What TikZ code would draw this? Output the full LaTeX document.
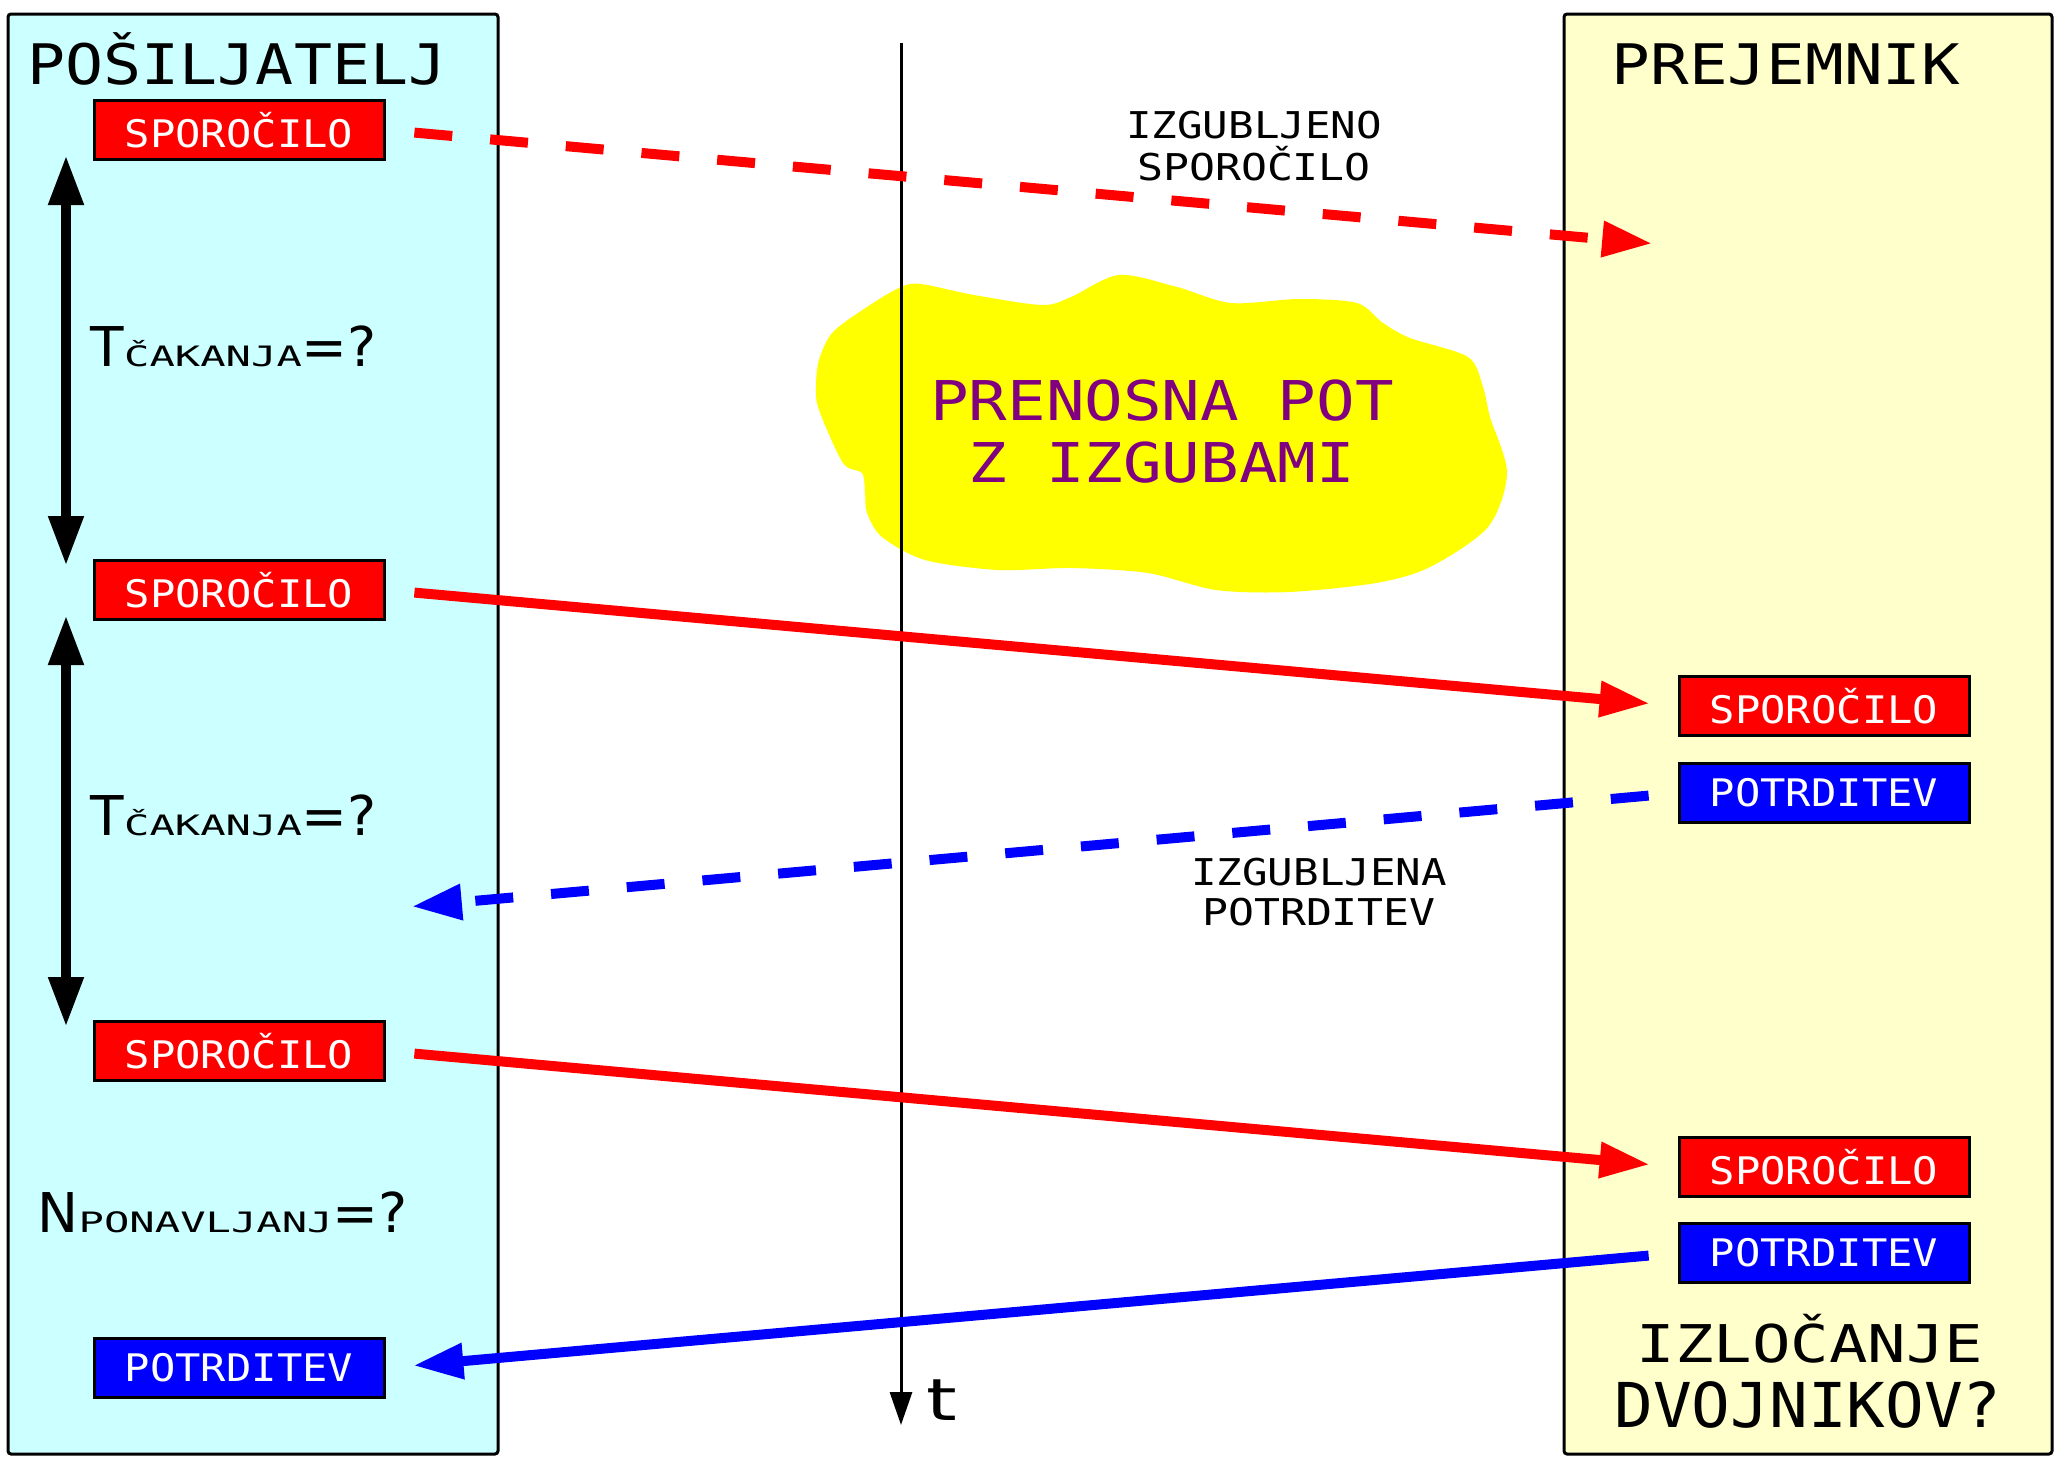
\documentclass[tikz,border=0pt]{standalone}
\usepackage{fontspec}
\setmainfont{DejaVu Sans Mono}
\newfontfamily\sansfnt{DejaVu Sans}
\usepackage{xcolor}
\usepackage{graphicx}
\usepackage{tikz}
\usetikzlibrary{arrows.meta}
\definecolor{sendbg}{HTML}{CCFFFF}
\definecolor{recvbg}{HTML}{FFFFCC}
\definecolor{cloudbg}{RGB}{255,255,0}
\definecolor{cloudtxt}{HTML}{800080}
\newcommand{\wide}[2]{\scalebox{#1}[1]{#2}}
\newcommand{\subcaps}[1]{{\rmfamily\fontsize{8}{9}\selectfont\wide{1.5}{#1}}}

\begin{document}
\begin{tikzpicture}[x=0.1mm,y=-0.1mm,
		lane/.style={draw=black,line width=0.3mm,rounded corners=0.3mm},
		msg/.style={draw=black,line width=0.3mm,fill=red,text=white,minimum width=29mm,minimum height=5.9mm,inner sep=0pt,font=\fontsize{10.8}{12}\selectfont},
		ack/.style={msg,fill=blue},
		msgline/.style={red,line width=1mm,-{Triangle[length=5mm,width=3.4mm]},shorten <=2.9mm,shorten >=2.8mm},
		ackline/.style={msgline,blue},
		lostline/.style={dash pattern=on 3.8mm off 3.8mm},
		waitline/.style={line width=1.07mm,{Triangle[length=5mm,width=3.3mm]}-{Triangle[length=5mm,width=3.3mm]},shorten <=-0.6mm,shorten >=-0.7mm},
		head/.style={anchor=base,font=\fontsize{15.9}{18}\selectfont},
		param/.style={anchor=base west,inner sep=0pt,font=\sansfnt\fontsize{15.6}{18}\selectfont}]
		\useasboundingbox (0,0) rectangle (2056,1462);
		\draw[lane,fill=sendbg] (8,14) rectangle (498,1454);
		\draw[lane,fill=recvbg] (1564,14) rectangle (2052,1454);
		\node[head] (snd) at (237,84) {\wide{1.13}{POŠILJATELJ}};
		\node[head] (rcv) at (1786,84) {\wide{1.15}{PREJEMNIK}};
		\fill[cloudbg] plot[smooth cycle] coordinates {(816,387) (819,360) (833,332) (870,305) (901,287) (921,284) (974,295) (1042,305) (1071,297) (1119,275) (1177,287) (1231,303) (1299,299) (1357,303) (1383,323) (1410,338) (1468,357) (1483,387) (1490,417) (1507,473) (1488,527) (1430,567) (1376,583) (1289,592) (1216,590) (1148,573) (1071,568) (998,570) (925,560) (882,537) (867,513) (865,493) (862,473) (843,463) (819,410)};
		\node[align=center,text=cloudtxt,font=\fontsize{15.6}{17.9}\selectfont] (chan) at (1162,431.5) {\wide{1.17}{PRENOSNA POT}\\\wide{1.17}{Z IZGUBAMI}};
		\coordinate (ttop) at (901,43);
		\coordinate (tend) at (901,1425);
		\draw[line width=0.3mm,-{Triangle[length=3.3mm,width=2.2mm]}] (ttop) -- (tend);
		\node[anchor=base,font=\sansfnt\fontsize{16.5}{18}\selectfont] (tlab) at (942,1420) {\wide{1.35}{t}};
		\node[msg] (s1) at (239,130) {\wide{1.11}{SPOROČILO}};
		\node[msg] (s2) at (239,590) {\wide{1.11}{SPOROČILO}};
		\node[msg] (s3) at (239,1051) {\wide{1.11}{SPOROČILO}};
		\node[ack] (a0) at (239,1368) {\wide{1.11}{POTRDITEV}};
		\node[msg] (r1) at (1824,706) {\wide{1.11}{SPOROČILO}};
		\node[ack] (a1) at (1824,793) {\wide{1.11}{POTRDITEV}};
		\node[msg] (r2) at (1824,1167) {\wide{1.11}{SPOROČILO}};
		\node[ack] (a2) at (1824,1253) {\wide{1.11}{POTRDITEV}};
		\coordinate (miss1) at (1680,246);
		\coordinate (miss2) at (384,909);
		\coordinate (ax) at (66,0);
		\draw[msgline,lostline] (s1.east) -- (miss1);
		\draw[msgline] (s2.east) -- (r1.west);
		\draw[ackline,lostline] (a1.west) -- (miss2);
		\draw[msgline] (s3.east) -- (r2.west);
		\draw[ackline] (a2.west) -- (a0.east);
		\draw[waitline] (s1.south -| ax) -- (s2.north -| ax);
		\draw[waitline] (s2.south -| ax) -- (s3.north -| ax);
		\node[align=center,font=\fontsize{10.5}{11.9}\selectfont] (lost1) at (1254,146) {\wide{1.15}{IZGUBLJENO}\\\wide{1.17}{SPOROČILO}};
		\node[align=center,font=\fontsize{10.5}{11.4}\selectfont] (lost2) at (1319,892) {\wide{1.15}{IZGUBLJENA}\\\wide{1.17}{POTRDITEV}};
		\node[param] (wait1) at (90,366) {T\subcaps{ČAKANJA}=?};
		\node[param] (wait2) at (90,835) {T\subcaps{ČAKANJA}=?};
		\node[param] (rep) at (37,1232) {N\subcaps{PONAVLJANJ}=?};
		\node[anchor=base,font=\fontsize{14.8}{18}\selectfont] (dup1) at (1810,1362) {\wide{1.23}{IZLOČANJE}};
		\node[anchor=base,font=\fontsize{17.6}{20}\selectfont] (dup2) at (1808,1427) {\wide{1.04}{DVOJNIKOV?}};
	\end{tikzpicture}
\end{document}
